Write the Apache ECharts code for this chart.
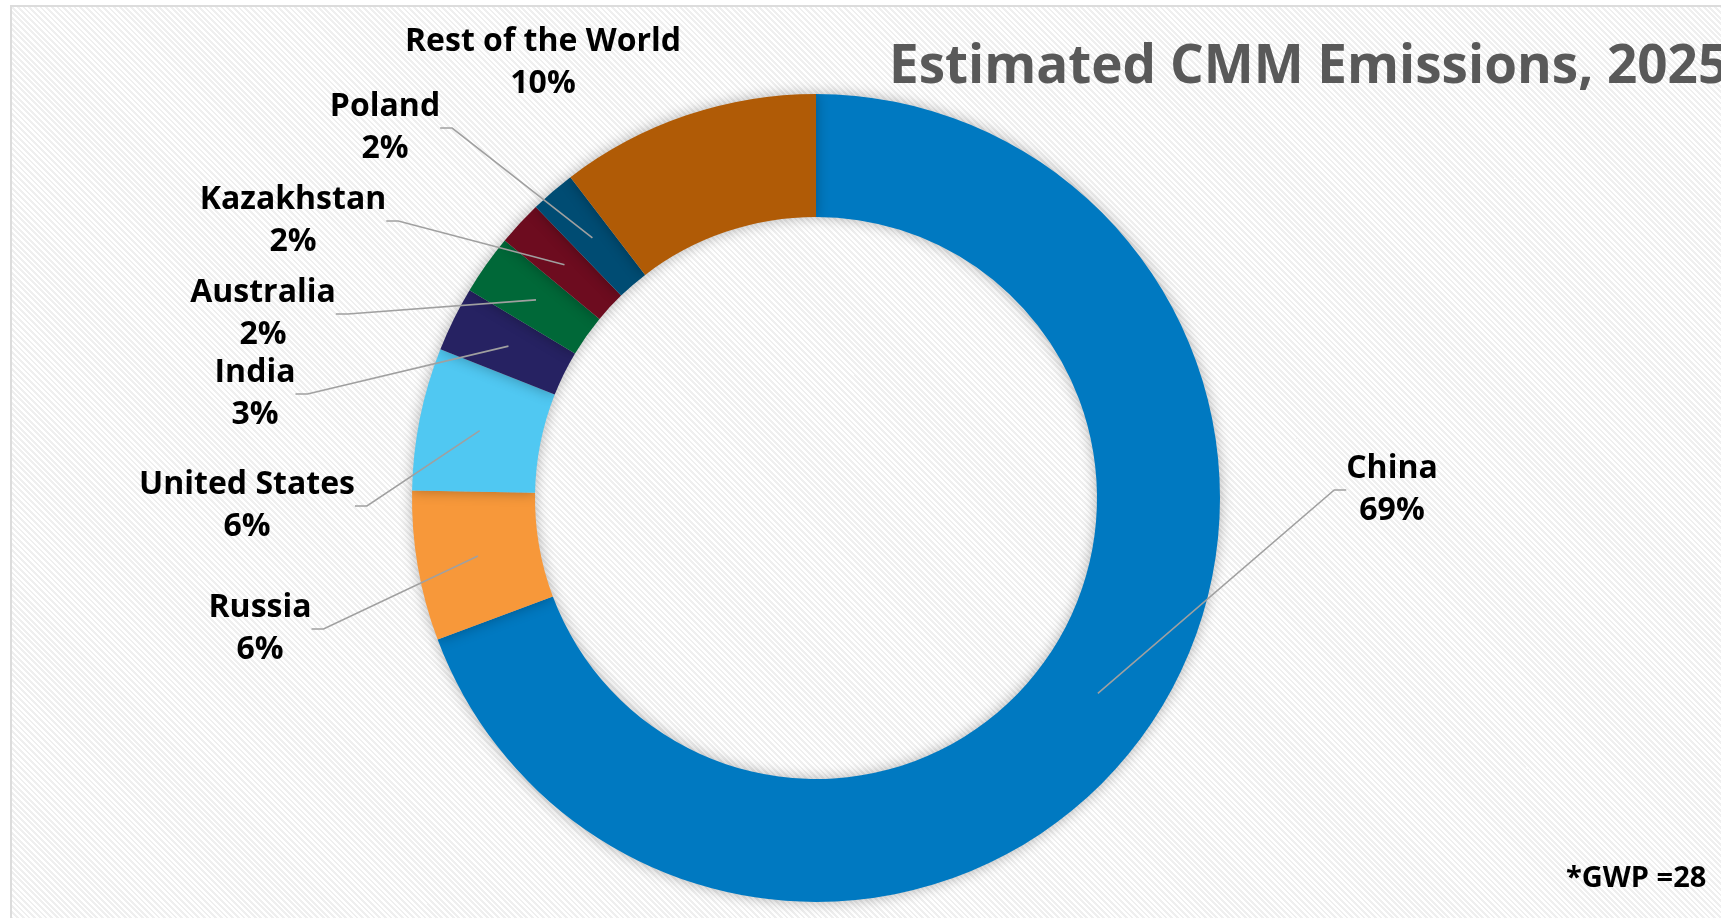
<!DOCTYPE html>
<html><head><meta charset="utf-8">
<script src="https://cdn.jsdelivr.net/npm/echarts@6/dist/echarts.min.js"></script>
<style>
html,body{margin:0;padding:0;background:#fff;overflow:hidden;width:1721px;height:918px}
#bg{position:absolute;left:10px;top:5px;width:1760px;height:960px;border:2px solid #dcdcdc;
background:repeating-linear-gradient(45deg,#ffffff 0px,#ffffff 2px,#efefef 2px,#efefef 4px);}
#chart{position:absolute;left:0;top:0;width:1721px;height:918px}
</style></head><body>
<div id="bg"></div><div id="chart"></div>
<script>
// ---- data ----
const categories = ['China', 'Russia', 'United States', 'India', 'Australia', 'Kazakhstan', 'Poland', 'Rest of the World'];
const shares = [69.3, 6.0, 5.7, 2.6, 2.4, 1.8, 1.8, 10.4];
const colors = ['#0079C1', '#F7983A', '#50C8F2', '#262262', '#006838', '#6D0C1F', '#004C73', '#B05B06'];
const titleText = 'Estimated CMM Emissions, 2025';
const noteText = '*GWP =28';

// ---- layout ----
const labelCenters = [[1392, 490], [260, 629], [247, 506], [255, 394], [263, 314], [293, 221], [385, 128], [543, 63]];
const FONT = '"Open Sans", "Noto Sans", sans-serif';

const ringData = categories.map((n, i) => ({ name: n, value: shares[i], itemStyle: { color: colors[i] } }));
const labelData = categories.map((n, i) => ({
  name: n, value: shares[i],
  labelLine: { show: n !== 'Rest of the World' }
}));

const chart = echarts.init(document.getElementById('chart'), null, { renderer: 'canvas' });
chart.setOption({
  backgroundColor: 'transparent',
  animation: false,
  title: {
    text: titleText, left: 889, top: 41, padding: 0,
    textStyle: { fontFamily: FONT, fontWeight: 'bold', fontSize: 53, color: '#595959' }
  },
  graphic: [{
    type: 'text', left: 1566, top: 864,
    style: { text: noteText, font: 'bold 29px "Open Sans", sans-serif', fill: '#000' }
  }],
  series: [{
    type: 'pie', silent: true,
    center: [816, 498], radius: [281, 404], startAngle: 90, clockwise: true,
    label: { show: false }, labelLine: { show: false },
    itemStyle: { shadowBlur: 14, shadowColor: 'rgba(0,0,0,0.3)' },
    emphasis: { disabled: true },
    data: ringData
  }, {
    type: 'pie', silent: true, z: 3,
    center: [816, 498], radius: [0, 343], startAngle: 90, clockwise: true,
    avoidLabelOverlap: false,
    itemStyle: { color: 'rgba(0,0,0,0)' },
    emphasis: { disabled: true },
    label: {
      show: true, position: 'outside',
      fontFamily: FONT, fontWeight: 'bold', fontSize: 32, lineHeight: 42, color: '#000',
      formatter: p => p.name + '\n' + Math.round(p.percent) + '%'
    },
    labelLine: { show: true, length: 10, length2: 12, lineStyle: { color: '#a0a0a0', width: 1.6 } },
    labelLayout: p => {
      const c = labelCenters[p.dataIndex];
      return { x: c[0], y: c[1], align: 'center', verticalAlign: 'middle' };
    },
    data: labelData
  }]
});
</script>
</body></html>
